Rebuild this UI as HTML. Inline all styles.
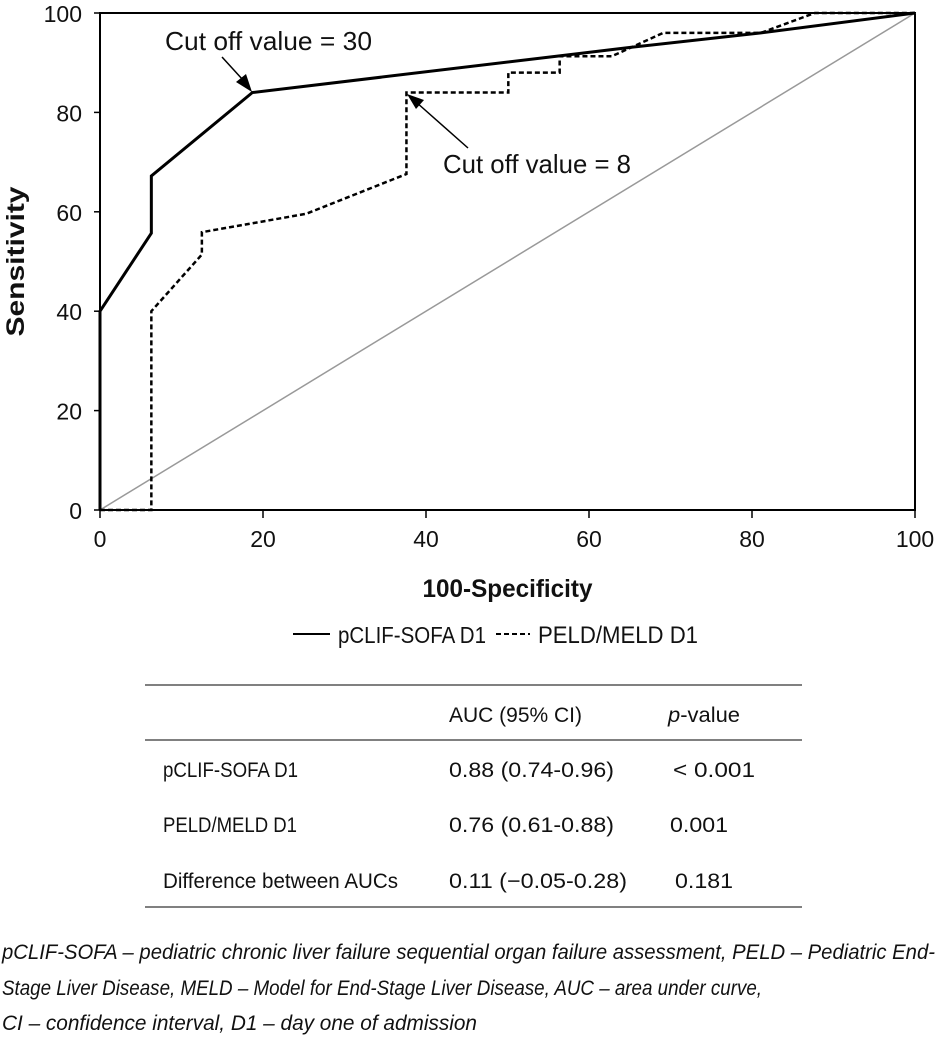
<!DOCTYPE html>
<html><head><meta charset="utf-8"><style>
body{margin:0;background:#fff;width:938px;height:1041px;overflow:hidden}
svg text{font-family:"Liberation Sans",sans-serif;fill:#111}
</style></head><body>
<svg width="938" height="1041">
<g id="plot"></g>
<g>
<line x1="293" y1="634" x2="330" y2="634" stroke="#000" stroke-width="2"/>
<text x="338" y="643" font-size="23" textLength="148" lengthAdjust="spacingAndGlyphs">pCLIF-SOFA D1</text>
<line x1="496" y1="634" x2="530" y2="634" stroke="#000" stroke-width="2" stroke-dasharray="5,3"/>
<text x="538" y="643" font-size="24" textLength="160" lengthAdjust="spacingAndGlyphs">PELD/MELD D1</text>
</g>
<g font-size="21">
<line x1="145" y1="685" x2="802" y2="685" stroke="#000" stroke-width="1"/>
<line x1="145" y1="740" x2="802" y2="740" stroke="#000" stroke-width="1"/>
<line x1="145" y1="907" x2="802" y2="907" stroke="#000" stroke-width="1"/>
<text x="449" y="722" textLength="133" lengthAdjust="spacingAndGlyphs">AUC (95% CI)</text>
<text x="668" y="722" textLength="72" lengthAdjust="spacingAndGlyphs"><tspan font-style="italic">p</tspan>-value</text>
<text x="163" y="777" textLength="135" lengthAdjust="spacingAndGlyphs">pCLIF-SOFA D1</text>
<text x="449" y="777" textLength="165" lengthAdjust="spacingAndGlyphs">0.88 (0.74-0.96)</text>
<text x="673" y="777" textLength="82" lengthAdjust="spacingAndGlyphs">&lt; 0.001</text>
<text x="163" y="832" textLength="134" lengthAdjust="spacingAndGlyphs">PELD/MELD D1</text>
<text x="449" y="832" textLength="165" lengthAdjust="spacingAndGlyphs">0.76 (0.61-0.88)</text>
<text x="670" y="832" textLength="58" lengthAdjust="spacingAndGlyphs">0.001</text>
<text x="163" y="888" textLength="235" lengthAdjust="spacingAndGlyphs">Difference between AUCs</text>
<text x="449" y="888" textLength="178" lengthAdjust="spacingAndGlyphs">0.11 (−0.05-0.28)</text>
<text x="675" y="888" textLength="58" lengthAdjust="spacingAndGlyphs">0.181</text>
</g>
<g font-size="21" font-style="italic">
<text x="2" y="959" textLength="933" lengthAdjust="spacingAndGlyphs">pCLIF-SOFA – pediatric chronic liver failure sequential organ failure assessment, PELD – Pediatric End-</text>
<text x="2" y="995" textLength="760" lengthAdjust="spacingAndGlyphs">Stage Liver Disease, MELD – Model for End-Stage Liver Disease, AUC – area under curve,</text>
<text x="2" y="1030" textLength="475" lengthAdjust="spacingAndGlyphs">CI – confidence interval, D1 – day one of admission</text>
</g>
</svg>
<script>
const xTicks=[0,20,40,60,80,100];
const yTicks=[0,20,40,60,80,100];
const solidX=[0,0,6.3,6.3,18.7,56,65.2,81.1,100];
const solidY=[0,40,55.7,67.2,84,91.3,93.1,96,100];
const dashX=[0,6.3,6.3,12.5,12.5,25.3,37.6,37.6,50.1,50.1,56.4,56.4,62.8,69.1,81.1,87.7,100];
const dashY=[0,0,40,51.4,55.9,59.6,67.6,84,84,88,88,91.3,91.3,96,96,100,100];
const NS="http://www.w3.org/2000/svg";
const X0=100,X1=915,Y0=510,Y1=13;
const sx=v=>X0+(X1-X0)*v/100, sy=v=>Y0-(Y0-Y1)*v/100;
const g=document.getElementById('plot');
function mk(t,a){const e=document.createElementNS(NS,t);for(const k in a)e.setAttribute(k,a[k]);g.appendChild(e);return e;}
let e;
e=mk('rect',{x:X0,y:Y1,width:X1-X0,height:Y0-Y1,fill:'none',stroke:'#000','stroke-width':2});


e=mk('line',{x1:sx(0),y1:sy(0),x2:sx(100),y2:sy(100),stroke:'#999','stroke-width':1.5});


xTicks.forEach(v=>{
 e=mk('line',{x1:sx(v),y1:Y0,x2:sx(v),y2:Y0+8,stroke:'#000','stroke-width':1.5});
 
 
 e=mk('text',{x:sx(v),y:Y0+37,'font-size':23,'text-anchor':'middle'});e.textContent=v;
 
 
});
yTicks.forEach(v=>{
 e=mk('line',{x1:X0-6,y1:sy(v),x2:X0,y2:sy(v),stroke:'#000','stroke-width':1.5});
 
 
 e=mk('text',{x:X0-18,y:sy(v)+9,'font-size':23,'text-anchor':'end'});e.textContent=v;
 
 
});
function pts(xs,ys){return xs.map((x,i)=>sx(x)+','+sy(ys[i])).join(' ');}
e=mk('polyline',{points:pts(dashX,dashY),fill:'none',stroke:'#000','stroke-width':2.5,'stroke-dasharray':'5,3'});


e=mk('polyline',{points:pts(solidX,solidY),fill:'none',stroke:'#000','stroke-width':3});


e=mk('text',{x:sx(50),y:597,'font-size':25,'font-weight':'bold','text-anchor':'middle',textLength:170,lengthAdjust:'spacingAndGlyphs'});e.textContent='100-Specificity';


e=mk('text',{x:0,y:0,'font-size':25,'font-weight':'bold','text-anchor':'middle',transform:'translate(24,'+sy(50)+') rotate(-90)',textLength:150,lengthAdjust:'spacingAndGlyphs'});e.textContent='Sensitivity';


e=mk('text',{x:165,y:50,'font-size':26,textLength:207,lengthAdjust:'spacingAndGlyphs'});e.textContent='Cut off value = 30';


e=mk('text',{x:443,y:173,'font-size':26,textLength:188,lengthAdjust:'spacingAndGlyphs'});e.textContent='Cut off value = 8';


e=mk('line',{x1:222,y1:57,x2:243,y2:80,stroke:'#000','stroke-width':1.5});


e=mk('polygon',{points:'252,92 236,82 246,74',fill:'#000'});


e=mk('line',{x1:468,y1:148,x2:416,y2:102,stroke:'#000','stroke-width':1.5});


e=mk('polygon',{points:'407,94 424,100 416,109',fill:'#000'});


</script>
</body></html>
